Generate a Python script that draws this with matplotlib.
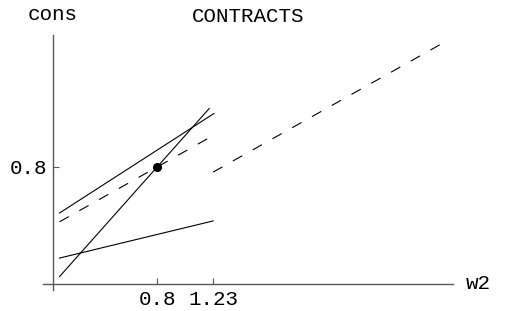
import numpy as np
import matplotlib
matplotlib.use('Agg')
import matplotlib.pyplot as plt

# contract lines: cons = a + b * w2 over a w2 range
w2_steep = [0.05, 1.20]
cons_steep = [0.05, 1.20]

w2_upper = [0.05, 1.235]
cons_upper = [0.485, 1.165]

w2_lower = [0.05, 1.23]
cons_lower = [0.177, 0.431]

w2_dash_left = [0.05, 1.23]
cons_dash_left = [0.425, 1.015]

w2_dash_right = [1.23, 2.97]
cons_dash_right = [0.765, 1.635]

point = (0.8, 0.8)
xticks = [0.8, 1.23]
xticklabels = ['0.8', '1.23']
yticks = [0.8]
yticklabels = ['0.8']

mono = 'Liberation Mono'

fig = plt.figure(figsize=(5.11, 3.11), dpi=100)
ax = fig.add_axes([0, 0, 1, 1])
ax.set_xlim(-0.407, 3.518)
ax.set_ylim(-0.185, 1.942)
ax.patch.set_alpha(0)

lw = 0.8
ax.plot(w2_steep, cons_steep, color='black', lw=lw)
ax.plot(w2_upper, cons_upper, color='black', lw=lw)
ax.plot(w2_lower, cons_lower, color='black', lw=lw)
ax.plot(w2_dash_left, cons_dash_left, color='black', lw=lw, dashes=(9.6, 10.8))
ax.plot(w2_dash_right, cons_dash_right, color='black', lw=lw, dashes=(9.6, 10.8))
ax.plot(*point, 'o', color='black', markersize=5.5)

for s in ['top', 'right']:
    ax.spines[s].set_visible(False)
ax.spines['left'].set_position(('data', 0))
ax.spines['bottom'].set_position(('data', 0))
ax.spines['left'].set_bounds(-0.04, 1.70)
ax.spines['bottom'].set_bounds(-0.075, 3.07)
for s in ['left', 'bottom']:
    ax.spines[s].set_color('0.35')
    ax.spines[s].set_linewidth(1.0)

ax.set_xticks(xticks)
ax.set_xticklabels(xticklabels, fontfamily=mono, fontsize=15)
ax.set_yticks(yticks)
ax.set_yticklabels(yticklabels, fontfamily=mono, fontsize=15)
ax.tick_params(direction='in', length=4, width=0.8, color='0.35', pad=4)

ax.text(0, 1.84, 'cons', fontfamily=mono, fontsize=15, ha='center', va='center')
ax.text(1.5, 1.83, 'CONTRACTS', fontfamily=mono, fontsize=15, ha='center', va='center')
ax.text(3.17, 0.0, 'w2', fontfamily=mono, fontsize=15, ha='left', va='center')

fig.savefig('out.png', dpi=100)
